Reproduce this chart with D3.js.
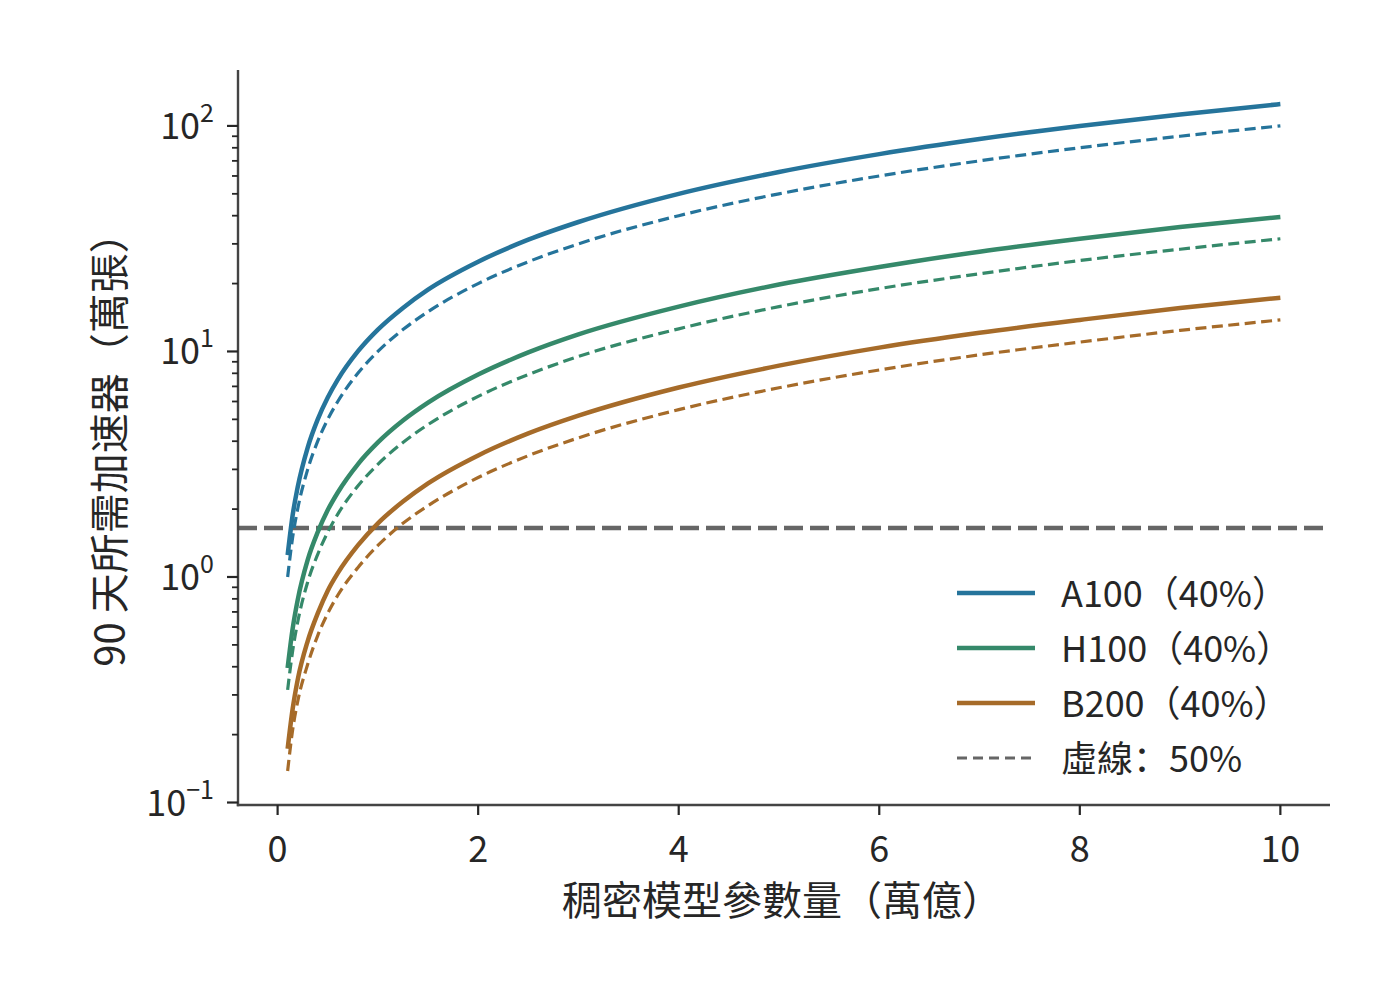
<!DOCTYPE html>
<html>
<head>
<meta charset="utf-8">
<script src="https://cdn.jsdelivr.net/npm/d3@7"></script>
<style>
  html, body { margin: 0; padding: 0; background: #fff; }
  svg { display: block; font-family: "Noto Sans CJK SC", "Noto Sans CJK TC", "Noto Sans", sans-serif; }
</style>
</head>
<body>
<div id="chart"></div>
<script>
// model size in 萬億 (trillion) parameters
const params = [0.1, 0.15, 0.2, 0.3, 0.4, 0.5, 0.6, 0.8, 1, 1.25, 1.5, 2, 2.5, 3, 4, 5, 6, 7, 8, 9, 10];

// accelerators needed over 90 days (萬張)
const a100At40 = [1.25, 1.88, 2.5, 3.75, 5.0, 6.25, 7.5, 10, 12.5, 15.6, 18.8, 25, 31.3, 37.5, 50, 62.5, 75, 87.5, 100, 112.5, 125];
const a100At50 = [1.0, 1.5, 2.0, 3.0, 4.0, 5.0, 6.0, 8.0, 10, 12.5, 15, 20, 25, 30, 40, 50, 60, 70, 80, 90, 100];
const h100At40 = [0.395, 0.59, 0.79, 1.19, 1.58, 1.98, 2.37, 3.16, 3.95, 4.94, 5.93, 7.9, 9.9, 11.9, 15.8, 19.8, 23.7, 27.7, 31.6, 35.6, 39.5];
const h100At50 = [0.316, 0.47, 0.63, 0.95, 1.26, 1.58, 1.9, 2.53, 3.16, 3.95, 4.74, 6.32, 7.9, 9.5, 12.6, 15.8, 19.0, 22.1, 25.3, 28.4, 31.6];
const b200At40 = [0.173, 0.26, 0.35, 0.52, 0.69, 0.87, 1.04, 1.38, 1.73, 2.16, 2.6, 3.46, 4.33, 5.19, 6.92, 8.65, 10.4, 12.1, 13.8, 15.6, 17.3];
const b200At50 = [0.138, 0.21, 0.28, 0.41, 0.55, 0.69, 0.83, 1.1, 1.38, 1.73, 2.07, 2.76, 3.45, 4.14, 5.52, 6.9, 8.28, 9.66, 11.0, 12.4, 13.8];

const threshold = 1.65;

const xTicks = [0, 2, 4, 6, 8, 10];
const yDecades = [-1, 0, 1, 2];

const series = [
  { name: "A100（40%）", color: "#25749b", solid: a100At40, dashed: a100At50 },
  { name: "H100（40%）", color: "#35896a", solid: h100At40, dashed: h100At50 },
  { name: "B200（40%）", color: "#a66b29", solid: b200At40, dashed: b200At50 }
];

const width = 1400, height = 1008;
const plot = { left: 238, right: 1330, top: 70, bottom: 805 };
const textColor = "#262626";
const spineColor = "#444";
const tickFont = 36;

const svg = d3.select("#chart").append("svg")
  .attr("width", width)
  .attr("height", height);

// matplotlib-style 5% padding around data
const x = d3.scaleLinear().domain([-0.395, 10.495]).range([plot.left, plot.right]);
const y = d3.scaleLog().domain([Math.pow(10, -1.011), Math.pow(10, 2.248)]).range([plot.bottom, plot.top]);

// threshold line
svg.append("line")
  .attr("x1", plot.left).attr("x2", plot.right)
  .attr("y1", y(threshold)).attr("y2", y(threshold))
  .attr("stroke", "#666")
  .attr("stroke-width", 4.5)
  .attr("stroke-dasharray", "19 7");

const line = d3.line()
  .x((d, i) => x(params[i]))
  .y(d => y(d))
  .curve(d3.curveMonotoneX);

series.forEach(s => {
  svg.append("path")
    .attr("d", line(s.solid))
    .attr("fill", "none")
    .attr("stroke", s.color)
    .attr("stroke-width", 4.5);
  svg.append("path")
    .attr("d", line(s.dashed))
    .attr("fill", "none")
    .attr("stroke", s.color)
    .attr("stroke-width", 3.2)
    .attr("stroke-dasharray", "11 5.5");
});

// spines
svg.append("line")
  .attr("x1", plot.left).attr("x2", plot.left)
  .attr("y1", plot.top).attr("y2", plot.bottom + 1.2)
  .attr("stroke", spineColor).attr("stroke-width", 2.4);
svg.append("line")
  .attr("x1", plot.left - 1.2).attr("x2", plot.right)
  .attr("y1", plot.bottom).attr("y2", plot.bottom)
  .attr("stroke", spineColor).attr("stroke-width", 2.4);

// x ticks
const xg = svg.append("g");
xTicks.forEach(t => {
  xg.append("line")
    .attr("x1", x(t)).attr("x2", x(t))
    .attr("y1", plot.bottom).attr("y2", plot.bottom + 10)
    .attr("stroke", textColor).attr("stroke-width", 2.2);
  xg.append("text")
    .attr("x", x(t)).attr("y", plot.bottom + 57)
    .attr("text-anchor", "middle")
    .attr("font-size", tickFont)
    .attr("fill", textColor)
    .text(t);
});

// y ticks: majors at decades, minors 2..9
const yg = svg.append("g");
yDecades.forEach(k => {
  const v = Math.pow(10, k);
  yg.append("line")
    .attr("x1", plot.left - 11).attr("x2", plot.left)
    .attr("y1", y(v)).attr("y2", y(v))
    .attr("stroke", textColor).attr("stroke-width", 2.2);
  const label = yg.append("text")
    .attr("x", plot.left - 24).attr("y", y(v) + 13)
    .attr("text-anchor", "end")
    .attr("font-size", tickFont)
    .attr("fill", textColor);
  label.append("tspan").text("10");
  label.append("tspan")
    .attr("font-size", 25)
    .attr("dy", -17)
    .text(k < 0 ? "\u2212" + Math.abs(k) : k);
  for (let m = 2; m <= 9; m++) {
    const mv = m * v;
    if (mv > y.domain()[1]) break;
    yg.append("line")
      .attr("x1", plot.left - 6).attr("x2", plot.left)
      .attr("y1", y(mv)).attr("y2", y(mv))
      .attr("stroke", textColor).attr("stroke-width", 1.8);
  }
});

// axis labels
svg.append("text")
  .attr("x", (plot.left + plot.right) / 2 - 2)
  .attr("y", 898)
  .attr("dominant-baseline", "central")
  .attr("text-anchor", "middle")
  .attr("font-size", 40)
  .attr("fill", textColor)
  .text("稠密模型參數量（萬億）");

svg.append("text")
  .attr("transform", "translate(107,440) rotate(-90)")
  .attr("dominant-baseline", "central")
  .attr("text-anchor", "middle")
  .attr("font-size", 40)
  .attr("fill", textColor)
  .text("90 天所需加速器（萬張）");

// legend
const legendItems = series.map(s => ({ name: s.name, color: s.color, dash: null, w: 4.5 }))
  .concat([{ name: "虛線：50%", color: "#666", dash: "10 6", w: 3 }]);
const lg = svg.append("g").attr("transform", "translate(957,593)");
legendItems.forEach((d, i) => {
  const gy = i * 55;
  lg.append("line")
    .attr("x1", 0).attr("x2", 78)
    .attr("y1", gy).attr("y2", gy)
    .attr("stroke", d.color)
    .attr("stroke-width", d.w)
    .attr("stroke-dasharray", d.dash);
  lg.append("text")
    .attr("x", 104).attr("y", gy - 2)
    .attr("dominant-baseline", "central")
    .attr("font-size", tickFont)
    .attr("fill", textColor)
    .text(d.name);
});
</script>
</body>
</html>
